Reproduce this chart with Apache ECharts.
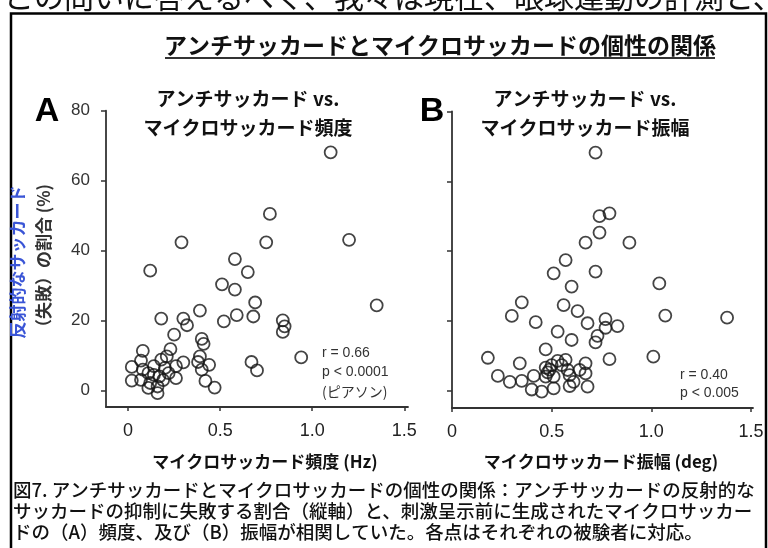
<!DOCTYPE html>
<html>
<head>
<meta charset="utf-8">
<script src="https://cdn.jsdelivr.net/npm/echarts@6/dist/echarts.min.js"></script>
<style>
  html, body { margin: 0; padding: 0; background: #fff; }
  #chart { width: 768px; height: 548px; }
</style>
</head>
<body>
<div id="chart"></div>
<script>
// A: マイクロサッカード頻度 (Hz) vs 反射的サッカードの割合 (%)
const freqHz = [1.10, 1.20, 1.35, 0.94, 0.77, 0.75, 0.29, 0.12, 0.58, 0.65, 0.51, 0.58, 0.69, 0.68, 0.59,
  0.52, 0.39, 0.30, 0.32, 0.18, 0.25, 0.40, 0.41, 0.84, 0.85, 0.84, 0.67, 0.70, 0.39, 0.38,
  0.40, 0.44, 0.42, 0.47, 0.30, 0.23, 0.08, 0.02, 0.02, 0.07, 0.08, 0.11, 0.07, 0.12, 0.11,
  0.16, 0.16, 0.17, 0.14, 0.18, 0.21, 0.20, 0.22, 0.26, 0.26, 0.19, 0.14]
const rateA = [68.1, 43.1, 24.4, 9.5, 50.5, 42.4, 42.4, 34.3, 37.6, 33.9, 30.4, 28.9, 25.2, 21.2, 21.6,
  19.8, 22.9, 20.6, 18.7, 20.6, 16.0, 14.8, 13.4, 20.1, 18.4, 16.8, 8.2, 5.8, 9.8, 8.2,
  6.0, 7.4, 2.8, 0.9, 8.1, 11.9, 11.4, 6.8, 2.9, 8.6, 6.0, 5.0, 3.1, 2.2, 0.8,
  1.2, -0.7, 4.1, 7.0, 8.9, 9.8, 6.5, 5.0, 3.6, 7.0, 3.0, 4.5]

// B: マイクロサッカード振幅 (deg) vs 反射的サッカードの割合 (%)
const ampDeg = [0.72, 0.74, 0.79, 0.74, 0.67, 0.89, 0.57, 0.51, 0.72, 0.60, 1.04, 0.35, 0.30, 0.42, 0.56,
  0.63, 0.68, 0.77, 0.77, 0.83, 0.73, 0.72, 1.07, 1.38, 0.53, 0.60, 0.47, 0.18, 0.34, 0.79,
  1.01, 0.23, 0.29, 0.35, 0.41, 0.40, 0.45, 0.51, 0.47, 0.49, 0.50, 0.48, 0.47, 0.55, 0.58,
  0.59, 0.61, 0.59, 0.67, 0.67, 0.68, 0.64, 0.51, 0.53, 0.57]
const rateB = [68.2, 50.0, 50.8, 45.3, 42.4, 42.4, 37.4, 33.6, 34.1, 29.8, 30.7, 25.3, 21.4, 19.6, 24.5,
  22.8, 19.3, 20.5, 18.0, 18.5, 15.7, 13.8, 21.5, 20.9, 16.9, 14.5, 11.8, 9.4, 7.8, 9.0,
  9.7, 4.2, 2.5, 2.8, 4.2, 0.3, -0.3, 0.6, 6.6, 6.0, 7.3, 5.2, 4.0, 7.3, 5.9,
  4.4, 2.5, 1.3, 7.8, 4.9, 1.1, 5.9, 4.0, 8.5, 8.8]

const yTicks = [0, 20, 40, 60, 80]
const xTicks = [0, 0.5, 1.0, 1.5]

const jp = '"Noto Sans CJK JP", sans-serif'
const latin = '"Liberation Sans", Arial, sans-serif'

function zip(xs, ys) {
  return xs.map((x, i) => [x, ys[i]])
}

const axisLine = { show: true, onZero: false, lineStyle: { color: '#333', width: 1.8 } }

function xAxisOf(gridIndex, min, max) {
  return {
    type: 'value',
    gridIndex: gridIndex,
    min: min,
    max: max,
    axisLine: axisLine,
    axisTick: { show: true, customValues: xTicks, length: 4, lineStyle: { color: '#333', width: 1.5 } },
    axisLabel: {
      show: true,
      customValues: xTicks,
      margin: 15,
      color: '#222',
      fontFamily: latin,
      fontSize: 18,
      formatter: v => (v === 0 ? '0' : v.toFixed(1))
    },
    splitLine: { show: false }
  }
}

function yAxisOf(gridIndex, min, showLabel) {
  return {
    type: 'value',
    gridIndex: gridIndex,
    min: min,
    max: 80,
    axisLine: axisLine,
    axisTick: { show: true, customValues: yTicks, length: 5, lineStyle: { color: '#333', width: 1.5 } },
    axisLabel: {
      show: showLabel,
      customValues: yTicks,
      margin: 16,
      color: '#333',
      fontFamily: latin,
      fontSize: 17
    },
    splitLine: { show: false }
  }
}

const ring = {
  color: 'rgba(0,0,0,0)',
  borderColor: '#151515',
  borderWidth: 1.8
}

function txt(text, x, y, font, opts) {
  return Object.assign({
    type: 'text',
    x: x,
    y: y,
    style: Object.assign({
      text: text,
      font: font,
      fill: '#111',
      align: 'center',
      verticalAlign: 'middle'
    }, (opts && opts.style) || {})
  }, (opts && opts.el) || {})
}

const option = {
  animation: false,
  backgroundColor: '#fff',
  grid: [
    { left: 106, top: 110.7, width: 302, height: 296.3, outerBoundsMode: 'none' },
    { left: 452, top: 111.5, width: 301, height: 296.5, outerBoundsMode: 'none' }
  ],
  xAxis: [xAxisOf(0, -0.12, 1.52), xAxisOf(1, 0, 1.51)],
  yAxis: [yAxisOf(0, -4.66, true), yAxisOf(1, -5.0, false)],
  series: [
    {
      type: 'scatter',
      xAxisIndex: 0,
      yAxisIndex: 0,
      symbol: 'circle',
      symbolSize: 12,
      itemStyle: ring,
      emphasis: { disabled: true },
      data: zip(freqHz, rateA)
    },
    {
      type: 'scatter',
      xAxisIndex: 1,
      yAxisIndex: 1,
      symbol: 'circle',
      symbolSize: 12,
      itemStyle: ring,
      emphasis: { disabled: true },
      data: zip(ampDeg, rateB)
    }
  ],
  graphic: [
    // cut-off line of the surrounding document
    txt('この問いに答えるべく、我々は現在、眼球運動の計測と、', 4, -3, '30px ' + jp, { style: { align: 'left' } }),
    // frame
    {
      type: 'rect',
      shape: { x: 11, y: 13.5, width: 755, height: 560 },
      style: { fill: 'none', stroke: '#000', lineWidth: 2.5 }
    },
    // main title
    txt('アンチサッカードとマイクロサッカードの個性の関係', 440, 45, 'bold 23px ' + jp),
    {
      type: 'line',
      shape: { x1: 165, y1: 58, x2: 715, y2: 58 },
      style: { stroke: '#333', lineWidth: 2 }
    },
    // panel letters
    txt('A', 47, 112, 'bold 34px ' + latin, { style: { fill: '#000' } }),
    txt('B', 432, 112, 'bold 34px ' + latin, { style: { fill: '#000' } }),
    // panel titles
    txt('アンチサッカード vs.', 248, 99, 'bold 19px ' + jp),
    txt('マイクロサッカード頻度', 248, 128, 'bold 19px ' + jp),
    txt('アンチサッカード vs.', 585, 99, 'bold 19px ' + jp),
    txt('マイクロサッカード振幅', 585, 128, 'bold 19px ' + jp),
    // y axis name (vertical)
    txt('反射的なサッカード', 18, 262, 'bold 17px ' + jp, { style: { fill: '#3a55d6' }, el: { rotation: Math.PI / 2 } }),
    txt('（失敗）の割合 (%)', 44, 260, 'bold 17px ' + jp, { style: { fill: '#333' }, el: { rotation: Math.PI / 2 } }),
    // x axis names
    txt('マイクロサッカード頻度 (Hz)', 265, 462, 'bold 17px ' + jp),
    txt('マイクロサッカード振幅 (deg)', 601, 462, 'bold 17px ' + jp),
    // statistics
    txt('r = 0.66', 322, 353, '14px ' + latin, { style: { align: 'left', fill: '#333' } }),
    txt('p < 0.0001', 322, 372, '14px ' + latin, { style: { align: 'left', fill: '#333' } }),
    txt('(ピアソン)', 322, 392, '14px ' + jp, { style: { align: 'left', fill: '#333' } }),
    txt('r = 0.40', 680, 375, '14px ' + latin, { style: { align: 'left', fill: '#333' } }),
    txt('p < 0.005', 680, 393, '14px ' + latin, { style: { align: 'left', fill: '#333' } }),
    // caption
    txt('図7. アンチサッカードとマイクロサッカードの個性の関係：アンチサッカードの反射的な', 13, 490, '500 18.5px ' + jp, { style: { align: 'left' } }),
    txt('サッカードの抑制に失敗する割合（縦軸）と、刺激呈示前に生成されたマイクロサッカー', 13, 511, '500 18.5px ' + jp, { style: { align: 'left' } }),
    txt('ドの（A）頻度、及び（B）振幅が相関していた。各点はそれぞれの被験者に対応。', 13, 532, '500 18.5px ' + jp, { style: { align: 'left' } })
  ]
}

const myChart = echarts.init(document.getElementById('chart'))
myChart.setOption(option)
</script>
</body>
</html>
